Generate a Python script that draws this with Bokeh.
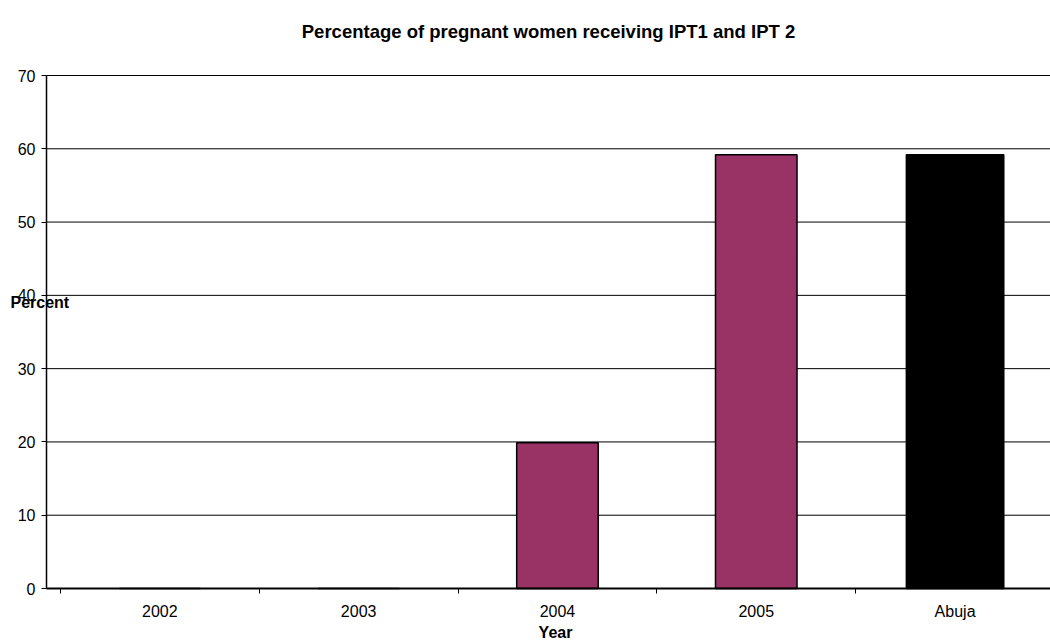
from bokeh.plotting import figure
from bokeh.models import Range1d, FixedTicker, Label, ColumnDataSource
from bokeh.embed import file_html
from bokeh.resources import INLINE

# Data
years = ["2002", "2003", "2004", "2005", "Abuja"]
percent = [0, 0, 19.9, 59.2, 59.2]
y_ticks = [0, 10, 20, 30, 40, 50, 60, 70]

FONT = "Liberation Sans"
W, H = 1050, 643

# Plotting area inside the canvas (pixels)
AX_LEFT, AX_RIGHT, AX_TOP, AX_BOTTOM = 46, 1050, 75, 588
X0, X1 = -0.57, 4.48          # data extent of the category axis
Y0, Y1 = 0, 70                # data extent of the value axis

# The frame covers the whole canvas; axes are pinned inside it so that
# free-standing labels (title, "Percent") are not clipped.
xpx = (AX_RIGHT - AX_LEFT) / (X1 - X0)
ypx = (AX_BOTTOM - AX_TOP) / (Y1 - Y0)
x_range = Range1d(X0 - AX_LEFT / xpx, X1 + (W - AX_RIGHT) / xpx)
y_range = Range1d(Y0 - (H - AX_BOTTOM) / ypx, Y1 + AX_TOP / ypx)

xs = list(range(len(years)))
colors = ["#993366"] * (len(years) - 1) + ["#000000"]
widths = [0.41] * (len(years) - 1) + [0.49]
src = ColumnDataSource(dict(x=xs, top=percent, color=colors, width=widths))

p = figure(
    width=W, height=H, x_range=x_range, y_range=y_range,
    output_backend="svg", toolbar_location=None,
    min_border_left=0, min_border_right=0, min_border_top=0, min_border_bottom=0,
)
p.outline_line_color = None
p.background_fill_color = "white"
p.border_fill_color = "white"
p.xgrid.visible = False
p.ygrid.visible = False

# horizontal gridlines
p.segment(x0=X0, x1=X1, y0=y_ticks, y1=y_ticks, line_color="black", line_width=1)

p.vbar(x="x", top="top", bottom=0, width="width", source=src,
       fill_color="color", line_color="black", line_width=1.5)

# x axis: labels at category centres, tick marks between categories
xax = p.xaxis[0]
xax.fixed_location = Y0
xax.bounds = (X0, X1)
xax.ticker = FixedTicker(ticks=xs, minor_ticks=[i - 0.5 for i in range(len(years) + 1)])
xax.major_label_overrides = {i: y for i, y in enumerate(years)}
xax.major_tick_out = 0
xax.major_tick_in = 0
xax.minor_tick_out = 5
xax.minor_tick_in = 0
xax.minor_tick_line_color = "black"
xax.axis_line_color = "black"
xax.axis_line_width = 2
xax.major_label_text_font = FONT
xax.major_label_text_font_size = "16px"
xax.major_label_text_color = "black"
xax.major_label_standoff = 9

yax = p.yaxis[0]
yax.fixed_location = X0
yax.bounds = (Y0, Y1)
yax.ticker = FixedTicker(ticks=y_ticks)
yax.major_tick_out = 5
yax.major_tick_in = 0
yax.minor_tick_line_color = None
yax.major_tick_line_color = "black"
yax.axis_line_color = "black"
yax.axis_line_width = 1.5
yax.major_label_text_font = FONT
yax.major_label_text_font_size = "16px"
yax.major_label_text_color = "black"
yax.major_label_standoff = 6

p.add_layout(Label(x=10, x_units="screen", y=H - 302, y_units="screen",
                   text="Percent", text_font=FONT, text_font_size="16px",
                   text_font_style="bold", text_color="black",
                   text_align="left", text_baseline="middle"))

p.add_layout(Label(x=555, x_units="screen", y=H - 632, y_units="screen",
                   text="Year", text_font=FONT, text_font_size="16px",
                   text_font_style="bold", text_color="black",
                   text_align="center", text_baseline="middle"))

p.add_layout(Label(x=548, x_units="screen", y=H - 31, y_units="screen",
                   text="Percentage of pregnant women receiving IPT1 and IPT 2",
                   text_font=FONT, text_font_size="18.5px", text_font_style="bold",
                   text_color="black", text_align="center", text_baseline="middle"))

open("out.html", "w").write(file_html(p, INLINE))
